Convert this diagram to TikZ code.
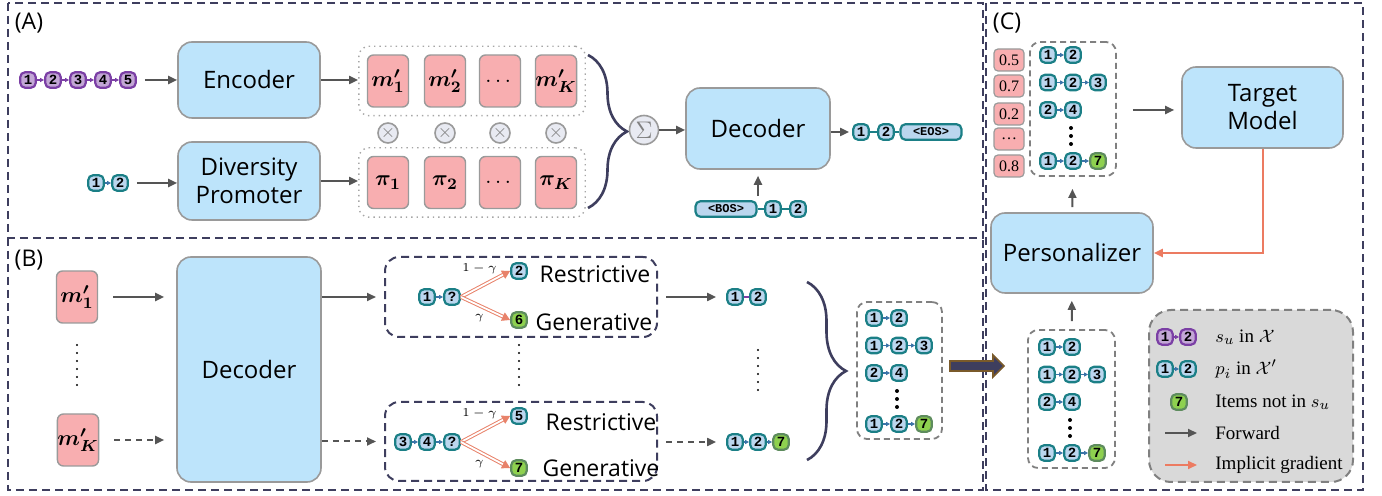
\documentclass[tikz,border=0pt]{standalone}
\usepackage{amsmath,bm}
\usepackage{fontspec}
\setmainfont{Liberation Serif}
\setsansfont{Open Sans}
\setmonofont{Liberation Mono}
\usepackage{tikz}
\usetikzlibrary{positioning,arrows.meta,fit,decorations.pathreplacing}

\definecolor{frame}{HTML}{3E3E5E}
\definecolor{boxblue}{HTML}{BDE4FB}
\definecolor{boxline}{HTML}{9A9A9A}
\definecolor{pinkm}{HTML}{F8AEB0}
\definecolor{tealc}{HTML}{1B7F86}
\definecolor{itemblue}{HTML}{BBD6EE}
\definecolor{purp}{HTML}{7B3FA5}
\definecolor{lav}{HTML}{C3A7D6}
\definecolor{greenf}{HTML}{8ED14F}
\definecolor{greenl}{HTML}{5E8C5E}
\definecolor{arrowg}{HTML}{555555}
\definecolor{linkb}{HTML}{3B74A8}
\definecolor{grad}{HTML}{EC7B61}
\definecolor{redar}{HTML}{E8826A}
\definecolor{legendg}{HTML}{D9D9D9}
\definecolor{brownb}{HTML}{7A5A2A}
\definecolor{opfill}{HTML}{E8EAF2}

\tikzset{
  panel/.style={draw=frame, line width=0.9pt, dash pattern=on 4pt off 2.5pt},
  block/.style={draw=boxline, fill=boxblue, line width=0.8pt, rounded corners=7pt,
    align=center, font=\sffamily\fontsize{12}{14}\selectfont},
  mbox/.style={draw=boxline, fill=pinkm, line width=0.7pt, rounded corners=3pt,
    minimum width=20.5pt, minimum height=26pt, inner sep=0pt, font=\fontsize{11}{12}\selectfont},
  itm/.style={draw=tealc, fill=itemblue, line width=1.1pt, rounded corners=2.5pt,
    minimum size=7.8pt, inner sep=0pt, font=\ttfamily\bfseries\fontsize{7}{7}\selectfont},
  pitm/.style={itm, draw=purp, fill=lav},
  gitm/.style={itm, draw=greenl, fill=greenf},
  tok/.style={itm, minimum width=30.5pt, font=\ttfamily\bfseries\fontsize{6}{6}\selectfont},
  fwd/.style={draw=arrowg, line width=1pt, -{Triangle[length=4.5pt,width=4pt]}},
  lnk/.style={draw=linkb, line width=0.7pt, -{Triangle[length=2pt,width=2pt]}},
  plnk/.style={lnk, draw=purp},
  tln/.style={draw=tealc, line width=1.1pt},
  pln/.style={draw=purp, line width=1.1pt},
  dbl/.style={draw=redar, double=white, line width=0.5pt, double distance=0.9pt,
    -{Triangle[length=4pt,width=4.5pt]}},
  gradl/.style={draw=grad, line width=1pt, -{Triangle[length=4.5pt,width=4pt]}},
  dotbox/.style={draw=gray!70, dotted, line width=0.7pt, rounded corners=5pt, inner sep=4pt},
  brbox/.style={draw=frame, line width=1pt, dash pattern=on 4pt off 2.5pt, rounded corners=7pt},
  lstbox/.style={draw=gray, line width=0.9pt, dash pattern=on 3pt off 2pt, rounded corners=5pt},
  legbox/.style={draw=gray, fill=legendg, line width=1pt, dash pattern=on 4pt off 2.5pt, rounded corners=11pt},
  score/.style={draw=boxline, fill=pinkm, line width=0.6pt, rounded corners=2pt,
    minimum width=15pt, minimum height=11pt, inner sep=0pt, font=\fontsize{8}{8}\selectfont},
  opnode/.style={circle, draw=boxline, fill=opfill, line width=0.8pt, inner sep=0pt},
  dotline/.style={line width=1.2pt, line cap=round, dash pattern=on 0pt off 4pt},
  bigdots/.style={line width=2pt, line cap=round, dash pattern=on 0pt off 4pt},
  brc/.style={decorate, decoration={brace, amplitude=19.5pt}, draw=frame, line width=1.3pt},
  labtxt/.style={font=\sffamily\fontsize{11.5}{13}\selectfont},
  brtxt/.style={font=\sffamily\fontsize{11.5}{14}\selectfont},
  gam/.style={font=\fontsize{6.5}{7}\selectfont, inner sep=0pt},
  legtxt/.style={anchor=west, inner sep=0pt, font=\fontsize{9.5}{11}\selectfont}
}

% list of sequences: prefix, x of first item, y of first row
\newcommand{\seqlist}[3]{%
  \node[itm] (#1a1) at (#2,#3) {1};
  \node[itm] (#1a2) at (#2+25,#3) {2};
  \node[itm] (#1b1) at (#2,#3+27.5) {1};
  \node[itm] (#1b2) at (#2+25,#3+27.5) {2};
  \node[itm] (#1b3) at (#2+50,#3+27.5) {3};
  \node[itm] (#1c1) at (#2,#3+55) {2};
  \node[itm] (#1c2) at (#2+25,#3+55) {4};
  \node[itm] (#1d1) at (#2,#3+106) {1};
  \node[itm] (#1d2) at (#2+25,#3+106) {2};
  \node[gitm] (#1d3) at (#2+50,#3+106) {7};
  \draw[lnk] (#1a1) -- (#1a2);
  \draw[lnk] (#1b1) -- (#1b2);
  \draw[lnk] (#1b2) -- (#1b3);
  \draw[lnk] (#1c1) -- (#1c2);
  \draw[lnk] (#1d1) -- (#1d2);
  \draw[lnk] (#1d2) -- (#1d3);
  \draw[bigdots] (#2+23,#3+73) -- (#2+23,#3+90);
}

\begin{document}
\begin{tikzpicture}[x=0.5pt, y=-0.5pt]
  \useasboundingbox (0,0) rectangle (1382,496);

  % panels
  \draw[panel] (8,3) rectangle (983,238);
  \draw[panel] (8,238) -- (8,490) -- (983,490) -- (983,238);
  \draw[panel] (986,3) rectangle (1363,490);
  \node[labtxt] (la) at (29,23) {(A)};
  \node[labtxt] (lb) at (29,260) {(B)};
  \node[labtxt] (lc) at (1007,23) {(C)};

  % (A) encoder and diversity promoter
  \foreach \i in {1,...,5}
    \node[pitm] (s\i) at ({3+25*\i},80) {\i};
  \foreach \i [remember=\i as \p (initially 1)] in {2,...,5}
    \draw[plnk] (s\p) -- (s\i);
  \node[itm] (t1) at (96,183) {1};
  \node[itm] (t2) at (120,183) {2};
  \draw[lnk] (t1) -- (t2);

  \node[block, minimum width=71pt, minimum height=38pt] (enc) at (249,80) {Encoder};
  \node[block, minimum width=71pt, minimum height=39pt] (dp) at (249,181) {Diversity\\Promoter};
  \draw[fwd, shorten <=4pt] (s5) -- (enc.west |- s5);
  \draw[fwd, shorten <=4pt] (t2) -- (dp.west |- t2);

  \node[mbox] (m1) at (388,81) {$\bm{m'_1}$};
  \node[mbox] (m2) at (445,81) {$\bm{m'_2}$};
  \node[mbox] (m3) at (500,81) {$\dots$};
  \node[mbox] (m4) at (556,81) {$\bm{m'_K}$};
  \node[dotbox, fit=(m1)(m4)] (mrow) {};
  \node[mbox] (p1) at (388,182.5) {$\bm{\pi_1}$};
  \node[mbox] (p2) at (445,182.5) {$\bm{\pi_2}$};
  \node[mbox] (p3) at (500,182.5) {$\dots$};
  \node[mbox] (p4) at (556,182.5) {$\bm{\pi_K}$};
  \node[dotbox, fit=(p1)(p4)] (prow) {};
  \foreach \i in {1,...,4}
    \node[opnode, minimum size=10pt, text=gray, font=\small] (x\i) at (m\i |- 0,133) {$\times$};
  \draw[fwd] (enc) -- (mrow.west |- enc);
  \draw[fwd] (dp) -- (prow.west |- dp);

  \draw[brc] (588,55) -- (588,208);
  \node[opnode, minimum size=14.5pt, text=gray, font=\large] (sig) at (644,130) {$\Sigma$};
  \node[block, minimum width=72pt, minimum height=40.5pt] (dec1) at (758,128.5) {Decoder};
  \draw[fwd] (sig) -- (dec1.west |- sig);

  \node[itm] (o1) at (861,132) {1};
  \node[itm] (o2) at (886,132) {2};
  \node[tok] (eos) at (931,132) {<EOS>};
  \draw[tln] (o1) -- (o2);
  \draw[tln] (o2) -- (eos);
  \draw[fwd, shorten >=1.5pt] (dec1.east |- o1) -- (o1);

  \node[tok] (bos) at (726,209) {<BOS>};
  \node[itm] (b1) at (773,209) {1};
  \node[itm] (b2) at (798,209) {2};
  \draw[tln] (bos) -- (b1);
  \draw[tln] (b1) -- (b2);
  \draw[fwd, shorten <=2pt, shorten >=3pt] (dec1.south |- bos.north) -- (dec1.south);

  % (B) decoding with restrictive / generative branches
  \node[mbox] (k1) at (77,297) {$\bm{m'_1}$};
  \node[mbox] (kk) at (78,440) {$\bm{m'_K}$};
  \draw[dotline] (77,345) -- (77,387);
  \node[block, minimum width=72pt, minimum height=112.5pt] (dec2) at (249,369.5) {Decoder};
  \draw[fwd, shorten <=7.5pt, shorten >=6pt] (k1) -- (dec2.west |- k1);
  \draw[fwd, dash pattern=on 3pt off 2.5pt, shorten <=7.5pt, shorten >=6pt] (kk) -- (dec2.west |- kk);

  \node[brbox, minimum width=136pt, minimum height=40pt] (br1) at (521,297) {};
  \node[brbox, minimum width=136pt, minimum height=39.5pt] (br2) at (521,441.5) {};
  \draw[fwd, shorten >=4pt] (dec2.east |- br1) -- (br1);
  \draw[fwd, dash pattern=on 3pt off 2.5pt, shorten >=4pt] (dec2.east |- br2) -- (br2);

  \node[itm] (a1) at (427,297) {1};
  \node[itm] (q1) at (452,297) {?};
  \draw[lnk] (a1) -- (q1);
  \node[itm] (r1) at (519,271) {2};
  \node[gitm] (g1) at (519,320) {6};
  \draw[dbl] (q1.east) -- node[gam, above=5pt, xshift=-3pt] {$1-\gamma$} (r1.west);
  \draw[dbl] (q1.east) -- node[gam, below=2.5pt, xshift=-3pt] {$\gamma$} (g1.west);
  \node[brtxt] (rt1) at (595,274) {Restrictive};
  \node[brtxt] (gt1) at (594,322) {Generative};

  \node[itm] (a3) at (403,442) {3};
  \node[itm] (a4) at (427,442) {4};
  \node[itm] (q2) at (452,442) {?};
  \draw[lnk] (a3) -- (a4);
  \draw[lnk] (a4) -- (q2);
  \node[itm] (r2) at (519,416) {5};
  \node[gitm] (g2) at (519,468) {7};
  \draw[dbl] (q2.east) -- node[gam, above=5pt, xshift=-3pt] {$1-\gamma$} (r2.west);
  \draw[dbl] (q2.east) -- node[gam, below=2.5pt, xshift=-3pt] {$\gamma$} (g2.west);
  \node[brtxt] (rt2) at (601,422) {Restrictive};
  \node[brtxt] (gt2) at (601,468) {Generative};
  \draw[dotline] (519,345) -- (519,387);

  \node[itm] (u1) at (735,297) {1};
  \node[itm] (u2) at (758,297) {2};
  \draw[pln] (u1) -- (u2);
  \node[itm] (v1) at (735,442) {1};
  \node[itm] (v2) at (758,442) {2};
  \node[gitm] (v3) at (781,442) {7};
  \draw[lnk] (v1) -- (v2);
  \draw[lnk] (v2) -- (v3);
  \draw[dotline] (758,350) -- (758,393);
  \draw[fwd, shorten <=4pt, shorten >=5pt] (br1.east |- u1) -- (u1);
  \draw[fwd, dash pattern=on 3pt off 2.5pt, shorten <=4pt, shorten >=5pt] (br2.east |- v1) -- (v1);

  \draw[brc] (807,282) -- (807,460);
  \node[lstbox, minimum width=42.5pt, minimum height=68.5pt] (lstb) at (899.5,370.5) {};
  \seqlist{b}{874}{318}

  % fat arrow into (C)
  \draw[draw=brownb, fill=frame, line width=0.8pt, line join=miter]
    (950,361) -- (993,361) -- (993,355) -- (1004,366) -- (993,377) -- (993,371) -- (950,371) -- cycle;

  % (C) personalizer and target model
  \foreach \y/\v [count=\i] in {60/0.5, 86/0.7, 114/0.2, 139/\ldots, 166/0.8}
    \node[score] (sc\i) at (1009,\y) {\v};
  \node[lstbox, minimum width=43pt, minimum height=67pt] (lstc) at (1073,109) {};
  \seqlist{c}{1048}{55}
  \node[block, minimum width=80.5pt, minimum height=40.5pt] (tm) at (1262.5,107.5) {Target\\Model};
  \draw[fwd, shorten <=8pt, shorten >=3.5pt] (lstc.east |- 0,110) -- (tm.west |- 0,110);

  \node[block, minimum width=81pt, minimum height=40pt] (pers) at (1072,253) {Personalizer};
  \draw[fwd, shorten <=2.5pt, shorten >=6pt] (pers) -- (lstc);
  \draw[gradl] (tm.south) |- (pers.east);

  \node[lstbox, minimum width=43.5pt, minimum height=69pt] (lstd) at (1071.5,399) {};
  \seqlist{d}{1047}{347}
  \draw[fwd, shorten <=4pt, shorten >=3.5pt] (lstd) -- (pers);

  % legend
  \node[legbox, minimum width=102pt, minimum height=86pt] (leg) at (1251,396) {};
  \node[pitm] (l1) at (1165,337) {1};
  \node[pitm] (l2) at (1188,337) {2};
  \draw[plnk] (l1) -- (l2);
  \node[itm] (l3) at (1165,369) {1};
  \node[itm] (l4) at (1188,369) {2};
  \draw[lnk] (l3) -- (l4);
  \node[gitm] (l5) at (1179,402) {7};
  \coordinate (f1) at (1165,433);
  \coordinate (f2) at (1197,433);
  \coordinate (e1) at (1165,465);
  \coordinate (e2) at (1197,465);
  \draw[fwd] (f1) -- (f2);
  \draw[gradl] (e1) -- (e2);
  \node[legtxt] (lt1) at (1215,337) {$s_u$ in $\mathcal{X}$};
  \node[legtxt] (lt2) at (1215,369) {$p_i$ in $\mathcal{X}'$};
  \node[legtxt] (lt3) at (1215,402) {Items not in $s_u$};
  \node[legtxt] (lt4) at (1215,433) {Forward};
  \node[legtxt] (lt5) at (1215,465) {Implicit gradient};
\end{tikzpicture}
\end{document}
